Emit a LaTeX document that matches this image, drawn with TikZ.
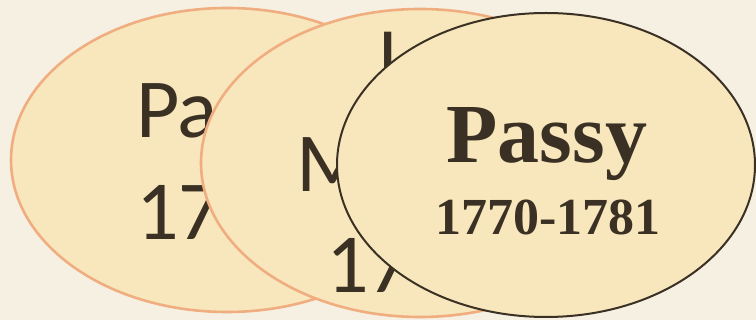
\documentclass[tikz,border=0pt]{standalone}
\usepackage{fontspec}
\setmainfont{Carlito}
\newfontfamily\timesfont{Liberation Serif}
\usetikzlibrary{shapes.geometric}

\definecolor{parchment}{RGB}{246,240,227}
\definecolor{pale}{RGB}{248,231,188}
\definecolor{peach}{RGB}{240,174,128}
\definecolor{ink}{RGB}{58,49,36}

\begin{document}
\begin{tikzpicture}[
  x=1pt, y=1pt,
  place/.style={ellipse, fill=pale, inner sep=0pt, line width=2.6pt},
  oldplace/.style={place, draw=peach},
  label/.style={anchor=base west, inner sep=0pt, text=ink, font=\fontsize{84}{84}\selectfont},
  title/.style={anchor=base, inner sep=0pt, text=ink, font=\timesfont\bfseries}
]
  \fill[parchment] (0,0) rectangle (756,320);
  \useasboundingbox (0,0) rectangle (756,320);

  % first home
  \node[oldplace, minimum width=432pt, minimum height=304pt] (paris) at (227,160) {};
  \node[label] (parisname) at (136,182) {Pa};
  \node[label] (parisyear) at (136,80) {17};

  % second home
  \node[oldplace, minimum width=438pt, minimum height=308pt] (muette) at (420,157) {};
  \node[label] (muettetop) at (378,229) {l};
  \node[label] (muettename) at (296,128) {M};
  \node[label] (muetteyear) at (326,27) {17};

  % Passy
  \node[place, draw=ink, line width=2pt, minimum width=418pt, minimum height=304pt] (passy) at (546,155) {};
  \node[title, font=\timesfont\bfseries\fontsize{84}{84}\selectfont] (passyname) at (547,157) {Passy};
  \node[title, font=\timesfont\bfseries\fontsize{52}{52}\selectfont] (passyyear) at (548,85) {1770-1781};
\end{tikzpicture}
\end{document}
